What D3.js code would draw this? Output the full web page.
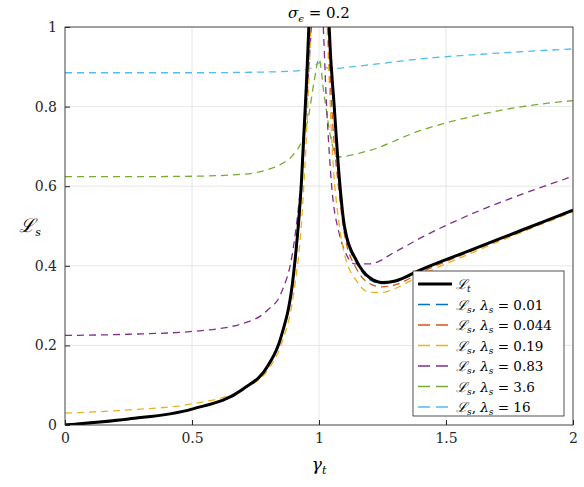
<!DOCTYPE html><html><head><meta charset="utf-8"><script src="https://cdn.jsdelivr.net/npm/d3@7"></script>
<style>body{margin:0;background:#fff}text{font-family:"DejaVu Serif","Liberation Serif",serif}</style></head><body><svg id="c" width="584" height="487"></svg>
<script>
const gammaT=[0,0.25,0.5,0.7,0.8,0.85,0.9,0.93,0.95,0.96,0.97,1.03,1.04,1.06,1.08,1.1,1.15,1.2,1.25,1.3,1.4,1.6,1.8,2];
const Lt =[0,0.015,0.04,0.09,0.15,0.22,0.38,0.6,0.85,1.0,1.2,1.2,1.0,0.8,0.62,0.5,0.41,0.37,0.358,0.362,0.39,0.44,0.49,0.54];
const L001=[0,0.015,0.04,0.09,0.15,0.22,0.38,0.6,0.85,1.0,1.2,1.2,1.0,0.79,0.61,0.49,0.405,0.365,0.355,0.36,0.388,0.44,0.49,0.54];
const gammaB=[0,0.25,0.5,0.7,0.8,0.85,0.9,0.93,0.95,0.965,0.98,1.02,1.035,1.05,1.08,1.1,1.15,1.2,1.25,1.3,1.4,1.6,1.8,2];
const L0044=[0.002,0.016,0.04,0.09,0.15,0.22,0.37,0.58,0.82,1.0,1.2,1.2,1.0,0.8,0.58,0.48,0.39,0.355,0.347,0.352,0.383,0.437,0.488,0.538];
const L019=[0.03,0.038,0.053,0.09,0.14,0.2,0.33,0.5,0.72,0.95,1.2,1.2,0.95,0.72,0.5,0.43,0.36,0.333,0.333,0.343,0.376,0.432,0.485,0.535];
const gammaP=[0,0.25,0.5,0.7,0.8,0.85,0.9,0.93,0.95,0.97,0.99,1.0,1.01,1.03,1.05,1.08,1.1,1.14,1.2,1.3,1.4,1.6,1.8,2];
const L083=[0.225,0.228,0.235,0.255,0.29,0.33,0.45,0.62,0.8,1.0,1.2,1.2,1.1,0.8,0.6,0.48,0.44,0.405,0.405,0.435,0.47,0.53,0.58,0.625];
const gammaG=[0,0.25,0.5,0.7,0.8,0.85,0.9,0.93,0.96,0.98,1.0,1.02,1.05,1.07,1.1,1.2,1.4,1.6,1.8,2];
const L36=[0.624,0.624,0.625,0.63,0.642,0.655,0.68,0.71,0.78,0.86,0.92,0.83,0.71,0.673,0.675,0.69,0.74,0.775,0.8,0.815];
const gammaC=[0,0.25,0.5,0.7,0.8,0.9,0.95,0.98,1.0,1.02,1.05,1.1,1.2,1.4,1.6,1.8,2];
const L16=[0.885,0.885,0.885,0.886,0.887,0.889,0.893,0.9,0.91,0.9,0.895,0.898,0.905,0.92,0.93,0.938,0.945];
const xTicks=[0,0.5,1,1.5,2], yTicks=[0,0.2,0.4,0.6,0.8,1];
const series=[
 {g:gammaT,v:Lt,c:"#000",w:3,d:null,lab:"t",lam:null},
 {g:gammaT,v:L001,c:"#0072BD",w:1.3,d:"7,5",lab:"s",lam:"0.01"},
 {g:gammaB,v:L0044,c:"#D95319",w:1.3,d:"7,5",lab:"s",lam:"0.044"},
 {g:gammaB,v:L019,c:"#EDB120",w:1.3,d:"7,5",lab:"s",lam:"0.19"},
 {g:gammaP,v:L083,c:"#7E2F8E",w:1.3,d:"7,5",lab:"s",lam:"0.83"},
 {g:gammaG,v:L36,c:"#77AC30",w:1.3,d:"7,5",lab:"s",lam:"3.6"},
 {g:gammaC,v:L16,c:"#4DBEEE",w:1.3,d:"7,5",lab:"s",lam:"16"}];
const svg=d3.select("#c");
const L=65,R=573,T=27,B=425;
const x=d3.scaleLinear().domain([0,2]).range([L,R]);
const y=d3.scaleLinear().domain([0,1]).range([B,T]);
const g=svg.append("g");
g.selectAll(".gx").data(xTicks).join("line").attr("x1",d=>x(d)).attr("x2",d=>x(d)).attr("y1",T).attr("y2",B).attr("stroke","#e6e6e6");
g.selectAll(".gy").data(yTicks).join("line").attr("y1",d=>y(d)).attr("y2",d=>y(d)).attr("x1",L).attr("x2",R).attr("stroke","#e6e6e6");
svg.append("clipPath").attr("id","cp").append("rect").attr("x",L).attr("y",T).attr("width",R-L).attr("height",B-T);
const pg=svg.append("g").attr("clip-path","url(#cp)");
const line=d3.line().curve(d3.curveMonotoneX);
series.slice().reverse().forEach(s=>{
 pg.append("path").attr("d",line(s.g.map((a,i)=>[x(a),y(s.v[i])]))).attr("fill","none").attr("stroke",s.c).attr("stroke-width",s.w).attr("stroke-dasharray",s.d);
});
// move black on top handled by reverse order
svg.append("rect").attr("x",L).attr("y",T).attr("width",R-L).attr("height",B-T).attr("fill","none").attr("stroke","#262626").attr("stroke-width",0.8);
const ax=d3.axisBottom(x).tickValues(xTicks).tickSize(-5).tickPadding(8).tickFormat(d3.format("~g"));
const ay=d3.axisLeft(y).tickValues(yTicks).tickSize(-5).tickPadding(8).tickFormat(d3.format("~g"));
[svg.append("g").attr("transform",`translate(0,${B})`).call(ax),svg.append("g").attr("transform",`translate(${L},0)`).call(ay)].forEach(a=>{
 a.select(".domain").remove();a.selectAll("line").attr("stroke","#262626");a.selectAll("text").attr("font-size",14).attr("fill","#262626");});
svg.append("text").attr("x",(L+R)/2).attr("y",18).attr("text-anchor","middle").attr("font-size",15).html('<tspan font-style="italic">σ</tspan><tspan font-size="10" dy="4" font-style="italic">ϵ</tspan><tspan dy="-4"> = 0.2</tspan>');
svg.append("text").attr("x",(L+R)/2).attr("y",470).attr("text-anchor","middle").attr("font-size",17).html('<tspan font-style="italic">γ</tspan><tspan font-size="11" dy="4" font-style="italic">t</tspan>');
svg.append("text").attr("x",30).attr("y",232).attr("text-anchor","middle").attr("font-size",19).html('<tspan font-style="italic">ℒ</tspan><tspan font-size="11" dy="4" font-style="italic">s</tspan>');
const lg=svg.append("g");
lg.append("rect").attr("x",413).attr("y",271).attr("width",151).attr("height",145).attr("fill","#fff").attr("stroke","#262626").attr("stroke-width",0.8);
series.forEach((s,i)=>{const yy=284+i*20.5;
 lg.append("line").attr("x1",418).attr("x2",452).attr("y1",yy).attr("y2",yy).attr("stroke",s.c).attr("stroke-width",s.w).attr("stroke-dasharray",s.d?"12,6":null);
 lg.append("text").attr("x",456).attr("y",yy+5).attr("font-size",13.5).html('<tspan font-style="italic">ℒ</tspan><tspan font-size="9" dy="3" font-style="italic">'+s.lab+'</tspan>'+(s.lam?'<tspan dy="-3">, </tspan><tspan font-style="italic">λ</tspan><tspan font-size="9" dy="3" font-style="italic">s</tspan><tspan dy="-3"> = '+s.lam+'</tspan>':''));
});
</script></body></html>
